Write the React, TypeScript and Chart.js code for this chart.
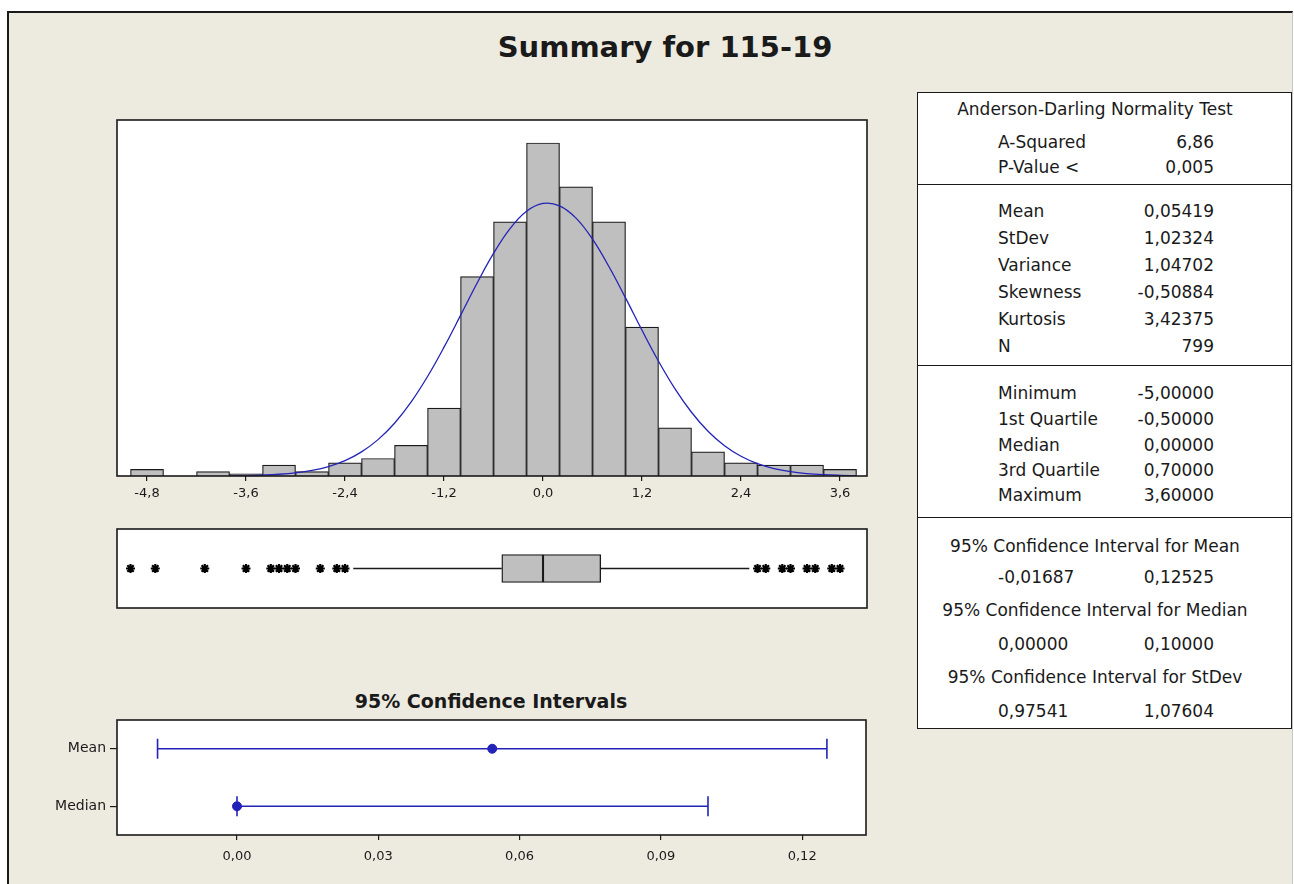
import React, { useEffect, useRef } from "react";
import { Chart, registerables } from "chart.js";

Chart.register(...registerables);

// ---------- data ----------
const histBinCenters = [-4.8, -4.4, -4.0, -3.6, -3.2, -2.8, -2.4, -2.0, -1.6, -1.2, -0.8, -0.4, 0.0, 0.4, 0.8, 1.2, 1.6, 2.0, 2.4, 2.8, 3.2, 3.6];
const histCounts = [3, 0, 2, 1, 5, 2, 6, 8, 14, 31, 91, 116, 152, 132, 116, 68, 22, 11, 6, 5, 5, 3];
const histTicks = [-4.8, -3.6, -2.4, -1.2, 0.0, 1.2, 2.4, 3.6];

// fitted normal curve (mean 0,05419, StDev 1,02324) in count units
const curveX = [-3.8, -3.6, -3.4, -3.2, -3.0, -2.8, -2.6, -2.4, -2.2, -2.0, -1.8, -1.6, -1.4, -1.2, -1.0, -0.8, -0.6, -0.4, -0.2, 0.0, 0.2, 0.4, 0.6, 0.8, 1.0, 1.2, 1.4, 1.6, 1.8, 2.0, 2.2, 2.4, 2.6, 2.8, 3.0, 3.2, 3.4, 3.6, 3.8];
const curveY = [0.10, 0.21, 0.42, 0.79, 1.45, 2.55, 4.31, 7.02, 11.0, 16.6, 24.1, 33.7, 45.4, 58.8, 73.3, 88.0, 101.6, 112.9, 120.8, 124.4, 123.3, 117.7, 108.1, 95.5, 81.3, 66.5, 52.4, 39.8, 29.1, 20.4, 13.8, 9.0, 5.64, 3.40, 1.97, 1.10, 0.59, 0.31, 0.15];

const boxQ1 = -0.5;
const boxMedian = 0.0;
const boxQ3 = 0.7;
const whiskerLow = -2.3;
const whiskerHigh = 2.5;
const boxOutliers = [-5.0, -4.7, -4.1, -3.6, -3.3, -3.2, -3.1, -3.0, -2.7, -2.5, -2.4, 2.6, 2.7, 2.9, 3.0, 3.2, 3.3, 3.5, 3.6];

const ciLabels = ["Mean", "Median"];
const ciCenters = [0.05419, 0.0];
const ciLow = [-0.01687, 0.0];
const ciHigh = [0.12525, 0.1];
const ciTicks = [0.0, 0.03, 0.06, 0.09, 0.12];

const adRows = [
  ["A-Squared", "6,86"],
  ["P-Value <", "0,005"],
];
const momentRows = [
  ["Mean", "0,05419"],
  ["StDev", "1,02324"],
  ["Variance", "1,04702"],
  ["Skewness", "-0,50884"],
  ["Kurtosis", "3,42375"],
  ["N", "799"],
];
const quantileRows = [
  ["Minimum", "-5,00000"],
  ["1st Quartile", "-0,50000"],
  ["Median", "0,00000"],
  ["3rd Quartile", "0,70000"],
  ["Maximum", "3,60000"],
];
const ciRows = [
  ["95% Confidence Interval for Mean", "-0,01687", "0,12525"],
  ["95% Confidence Interval for Median", "0,00000", "0,10000"],
  ["95% Confidence Interval for StDev", "0,97541", "1,07604"],
];

// ---------- style ----------
const FONT = "'DejaVu Sans', Verdana, sans-serif";
const BG = "#EDEAE0";
const INK = "#1a1a1a";
const BAR = "#BFBFBF";
const BLUE = "#2323B8";

const fmt = (v: number, d: number) => {
  const s = Math.abs(v) < 1e-9 ? (0).toFixed(d) : v.toFixed(d);
  return s.replace(".", ",");
};

const panelPlugin = {
  id: "panelFrame",
  beforeDraw(chart: any) {
    const { ctx, chartArea } = chart;
    const { left, top, right, bottom } = chartArea;
    ctx.save();
    ctx.fillStyle = "#ffffff";
    ctx.fillRect(left, top, right - left, bottom - top);
    ctx.restore();
  },
  afterDraw(chart: any) {
    const { ctx, chartArea } = chart;
    const { left, top, right, bottom } = chartArea;
    ctx.save();
    ctx.strokeStyle = INK;
    ctx.lineWidth = 1.6;
    ctx.strokeRect(left, top, right - left, bottom - top);
    ctx.restore();
  },
};

const HIST_MIN = -5.164;
const HIST_MAX = 3.927;

export default function App() {
  const histRef = useRef<HTMLCanvasElement>(null);
  const boxRef = useRef<HTMLCanvasElement>(null);
  const ciRef = useRef<HTMLCanvasElement>(null);

  useEffect(() => {
    const charts: Chart[] = [];

    // Histogram with fitted normal curve
    charts.push(
      new Chart(histRef.current as HTMLCanvasElement, {
        type: "bar",
        data: {
          datasets: [
            {
              type: "line",
              data: curveX.map((x, i) => ({ x, y: curveY[i] })),
              borderColor: BLUE,
              borderWidth: 1.3,
              pointRadius: 0,
              tension: 0.4,
              order: 0,
            } as any,
            {
              type: "bar",
              data: histBinCenters.map((x, i) => ({ x, y: histCounts[i] })),
              backgroundColor: BAR,
              borderColor: INK,
              borderWidth: 1.2,
              borderSkipped: "bottom",
              barPercentage: 1,
              categoryPercentage: 1,
              order: 1,
            } as any,
          ],
        },
        options: {
          responsive: false,
          animation: false,
          layout: { padding: { left: 17, right: 13, top: 10, bottom: 0 } },
          plugins: { legend: { display: false }, tooltip: { enabled: false } },
          scales: {
            x: {
              type: "linear",
              min: HIST_MIN,
              max: HIST_MAX,
              offset: false,
              grid: { display: true, offset: false, drawOnChartArea: false, drawTicks: true, tickLength: 5, color: INK, lineWidth: 1.2 },
              border: { display: false },
              afterBuildTicks: (s: any) => {
                s.ticks = histTicks.map((v) => ({ value: v }));
              },
              afterFit: (s: any) => {
                s.height = 34;
              },
              ticks: {
                autoSkip: false,
                maxRotation: 0,
                padding: 5,
                color: INK,
                font: { family: FONT, size: 13 },
                callback: (v: any) => fmt(Number(v), 1),
              },
            },
            y: { display: false, min: 0, max: 162.5 },
          },
        } as any,
        plugins: [panelPlugin],
      })
    );

    // Boxplot
    charts.push(
      new Chart(boxRef.current as HTMLCanvasElement, {
        type: "bar",
        data: {
          labels: ["box"],
          datasets: [
            {
              type: "bar",
              data: [[boxQ1, boxMedian]],
              backgroundColor: BAR,
              borderColor: INK,
              borderWidth: 1.4,
              borderSkipped: false,
              grouped: false,
              barThickness: 28,
            } as any,
            {
              type: "bar",
              data: [[boxMedian, boxQ3]],
              backgroundColor: BAR,
              borderColor: INK,
              borderWidth: 1.4,
              borderSkipped: false,
              grouped: false,
              barThickness: 28,
            } as any,
            {
              type: "scatter",
              showLine: true,
              data: [
                { x: whiskerLow, y: "box" },
                { x: boxQ1, y: "box" },
              ],
              borderColor: INK,
              borderWidth: 1.6,
              pointRadius: 0,
            } as any,
            {
              type: "scatter",
              showLine: true,
              data: [
                { x: boxQ3, y: "box" },
                { x: whiskerHigh, y: "box" },
              ],
              borderColor: INK,
              borderWidth: 1.6,
              pointRadius: 0,
            } as any,
            {
              type: "scatter",
              data: boxOutliers.map((v) => ({ x: v, y: "box" })),
              pointStyle: "star",
              pointRadius: 4.5,
              borderColor: "#000",
              backgroundColor: "#000",
              borderWidth: 2.2,
            } as any,
          ],
        },
        options: {
          responsive: false,
          animation: false,
          indexAxis: "y",
          layout: { padding: { left: 17, right: 13, top: 9, bottom: 12 } },
          plugins: { legend: { display: false }, tooltip: { enabled: false } },
          scales: {
            x: { type: "linear", min: HIST_MIN, max: HIST_MAX, display: false },
            y: { type: "category", display: false, offset: true },
          },
        } as any,
        plugins: [panelPlugin],
      })
    );

    // 95% confidence intervals
    charts.push(
      new Chart(ciRef.current as HTMLCanvasElement, {
        type: "scatter",
        data: {
          labels: ciLabels,
          datasets: [
            ...ciLabels.map(
              (lab, i) =>
                ({
                  type: "scatter",
                  showLine: true,
                  data: [
                    { x: ciLow[i], y: lab },
                    { x: ciHigh[i], y: lab },
                  ],
                  borderColor: BLUE,
                  borderWidth: 1.6,
                  pointStyle: "line",
                  pointRadius: 10,
                  pointRotation: 90,
                  pointBorderColor: BLUE,
                  pointBorderWidth: 1.6,
                } as any)
            ),
            {
              type: "scatter",
              data: ciLabels.map((lab, i) => ({ x: ciCenters[i], y: lab })),
              pointStyle: "circle",
              pointRadius: 4.5,
              backgroundColor: BLUE,
              borderColor: BLUE,
              borderWidth: 1,
            } as any,
          ],
        },
        options: {
          responsive: false,
          animation: false,
          layout: { padding: { left: 0, right: 14, top: 30, bottom: 0 } },
          plugins: { legend: { display: false }, tooltip: { enabled: false } },
          scales: {
            x: {
              type: "linear",
              min: -0.02548,
              max: 0.13355,
              grid: { display: true, drawOnChartArea: false, drawTicks: true, tickLength: 5, color: INK, lineWidth: 1.2 },
              border: { display: false },
              afterBuildTicks: (s: any) => {
                s.ticks = ciTicks.map((v) => ({ value: v }));
              },
              afterFit: (s: any) => {
                s.height = 45;
              },
              ticks: {
                autoSkip: false,
                maxRotation: 0,
                padding: 9,
                color: INK,
                font: { family: FONT, size: 13 },
                callback: (v: any) => fmt(Number(v), 2),
              },
            },
            y: {
              type: "category",
              labels: ciLabels,
              offset: true,
              grid: { display: true, offset: false, drawOnChartArea: false, drawTicks: true, tickLength: 7, color: INK, lineWidth: 1.2 },
              border: { display: false },
              afterFit: (s: any) => {
                s.width = 97;
              },
              ticks: {
                padding: 4,
                color: INK,
                font: { family: FONT, size: 14 },
              },
            },
          },
        } as any,
        plugins: [panelPlugin],
      })
    );

    return () => charts.forEach((c) => c.destroy());
  }, []);

  const T_LEFT = 917;
  const T_TOP = 92;
  const T_RIGHT = 1292;
  const T_BOTTOM = 729;
  const labelX = 997 - T_LEFT;
  const valueRight = 1213 - T_LEFT;
  const centerX = 1094 - T_LEFT;

  const textRow = (key: string, cy: number, left: string, right?: string) => (
    <React.Fragment key={key}>
      <div style={{ position: "absolute", left: labelX, top: cy - T_TOP - 11, height: 22, lineHeight: "22px", whiteSpace: "nowrap" }}>{left}</div>
      {right !== undefined && (
        <div style={{ position: "absolute", left: valueRight - 160, width: 160, textAlign: "right", top: cy - T_TOP - 11, height: 22, lineHeight: "22px", whiteSpace: "nowrap" }}>{right}</div>
      )}
    </React.Fragment>
  );
  const header = (key: string, cy: number, text: string) => (
    <div key={key} style={{ position: "absolute", left: centerX - 180, width: 360, textAlign: "center", top: cy - T_TOP - 11, height: 22, lineHeight: "22px", whiteSpace: "nowrap" }}>{text}</div>
  );
  const divider = (key: string, y: number) => (
    <div key={key} style={{ position: "absolute", left: 0, right: 0, top: y - T_TOP - 1, height: 0, borderTop: `1.5px solid ${INK}` }} />
  );

  const adY = [141, 166];
  const momentY = [210, 237, 264, 291, 318, 345];
  const quantY = [392, 418, 444, 469, 494];
  const ciTitleY = [545, 609, 676];
  const ciValY = [576, 643, 710];

  return (
    <div style={{ position: "absolute", left: 0, top: 0, width: 1294, height: 884, overflow: "hidden", background: "#ffffff", fontFamily: FONT, color: INK }}>
      <div style={{ position: "absolute", left: 7, top: 11, width: 1294 - 7 - 1, height: 884, boxSizing: "border-box", background: BG, borderLeft: `2px solid ${INK}`, borderTop: `2px solid ${INK}`, borderRight: "1px solid #c8c8c8" }} />

      <div style={{ position: "absolute", left: 415, width: 500, top: 29, textAlign: "center", fontSize: 29, fontWeight: "bold", lineHeight: "36px", whiteSpace: "nowrap" }}>Summary for 115-19</div>

      <canvas ref={histRef} width={780} height={400} style={{ position: "absolute", left: 100, top: 110, width: 780, height: 400 }} />
      <canvas ref={boxRef} width={780} height={100} style={{ position: "absolute", left: 100, top: 520, width: 780, height: 100 }} />

      <div style={{ position: "absolute", left: 291, width: 400, top: 689, textAlign: "center", fontSize: 19, fontWeight: "bold", lineHeight: "24px", whiteSpace: "nowrap" }}>95% Confidence Intervals</div>
      <canvas ref={ciRef} width={860} height={190} style={{ position: "absolute", left: 20, top: 690, width: 860, height: 190 }} />

      <div style={{ position: "absolute", left: T_LEFT, top: T_TOP, width: T_RIGHT - T_LEFT, height: T_BOTTOM - T_TOP, boxSizing: "border-box", border: `1.5px solid ${INK}`, background: "#ffffff", fontSize: 17 }}>
        {header("adh", 108, "Anderson-Darling Normality Test")}
        {adRows.map((r, i) => textRow("ad" + i, adY[i], r[0], r[1]))}
        {divider("d1", 184)}
        {momentRows.map((r, i) => textRow("m" + i, momentY[i], r[0], r[1]))}
        {divider("d2", 365)}
        {quantileRows.map((r, i) => textRow("q" + i, quantY[i], r[0], r[1]))}
        {divider("d3", 517)}
        {ciRows.map((r, i) => (
          <React.Fragment key={"ci" + i}>
            {header("ch" + i, ciTitleY[i], r[0])}
            {textRow("cv" + i, ciValY[i], r[1], r[2])}
          </React.Fragment>
        ))}
      </div>
    </div>
  );
}
